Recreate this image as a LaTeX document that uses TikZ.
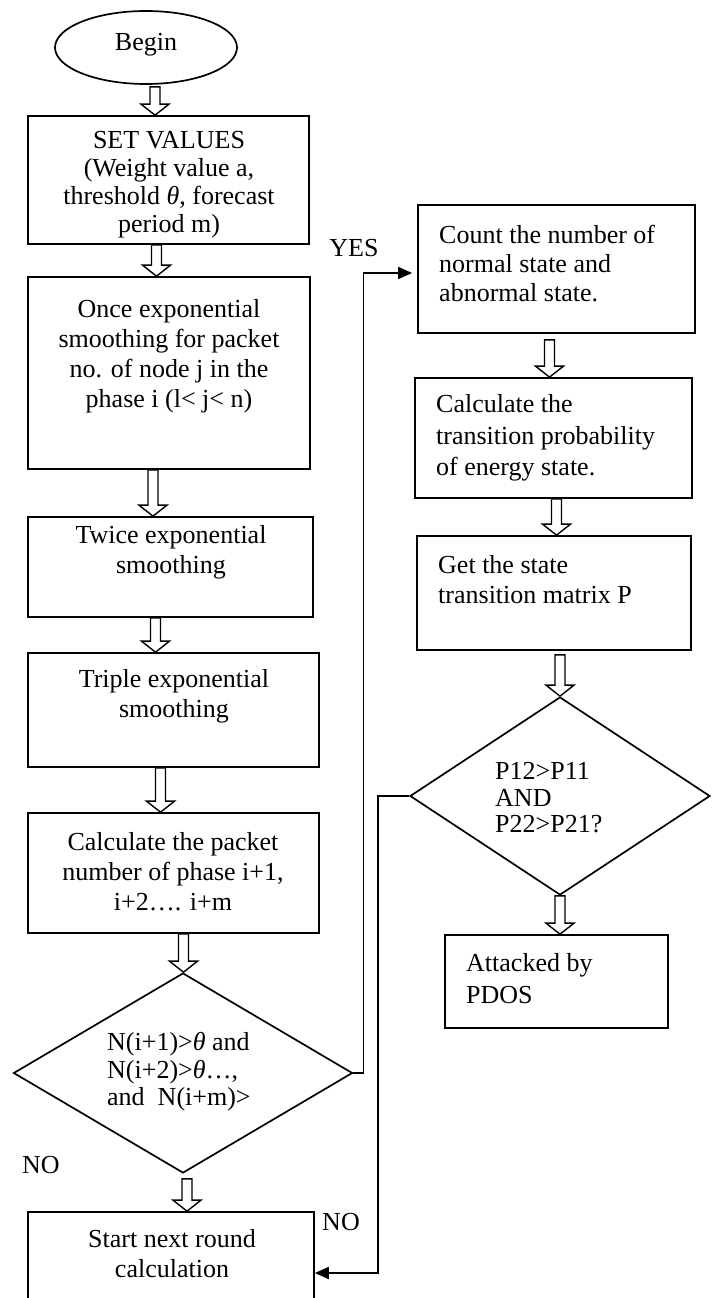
\documentclass[tikz,border=0pt]{standalone}
\usepackage{fontspec}
\setmainfont{Liberation Serif}
\usetikzlibrary{shapes.geometric,arrows.meta,calc}
\begin{document}
\begin{tikzpicture}[x=1pt,y=-1pt,
  shp/.style={draw,line width=1.7pt,inner sep=0pt},
  boxn/.style={shp,rectangle},
  txt/.style={inner sep=0pt,font=\fontsize{26}{30}\selectfont},
  ctxt/.style={txt,align=center},
  ltxt/.style={txt,align=left,anchor=west},
  blk/.style={draw,line width=1.4pt,fill=white,to path={let \p1=(\tikztostart), \p2=(\tikztotarget) in
     ({\x1-5pt},\y1) -- ({\x1-5pt},{\y2+11pt}) -- ({\x1-14pt},{\y2+11pt}) -- (\x1,\y2)
     -- ({\x1+14pt},{\y2+11pt}) -- ({\x1+5pt},{\y2+11pt}) -- ({\x1+5pt},\y1) -- cycle}},
  conn/.style={draw,line width=1.7pt,-{Triangle[length=14pt,width=12pt]}}]
\useasboundingbox (0,0) rectangle (717,1298);
% left column shapes
\node[shp,ellipse,minimum width=182pt,minimum height=73pt] (e) at (146,47.5) {};
\node[boxn,minimum width=281pt,minimum height=128pt] (b1) at (168.5,180) {};
\node[boxn,minimum width=282pt,minimum height=192pt] (b2) at (169,373) {};
\node[boxn,minimum width=285pt,minimum height=100pt] (b3) at (170.5,567) {};
\node[boxn,minimum width=291pt,minimum height=114pt] (b4) at (173.5,710) {};
\node[boxn,minimum width=291pt,minimum height=120pt] (b5) at (173.5,873) {};
\node[shp,diamond,minimum width=339pt,minimum height=200pt] (d1) at (183,1073) {};
\node[boxn,minimum width=286pt,minimum height=88pt] (s) at (171,1256) {};
% right column shapes
\node[boxn,minimum width=277pt,minimum height=128pt] (r1) at (556.5,269) {};
\node[boxn,minimum width=277pt,minimum height=120pt] (r2) at (553.5,438) {};
\node[boxn,minimum width=274pt,minimum height=114pt] (r3) at (554,593) {};
\node[shp,diamond,minimum width=300pt,minimum height=198pt] (d2) at (560,796) {};
\node[boxn,minimum width=223pt,minimum height=93pt] (a) at (556.5,981.5) {};
% texts
\node[ctxt] (te) at (146,45) {Begin};
\node[ctxt,font=\fontsize{26}{28}\selectfont] (t1) at (169,185) {SET VALUES\\(Weight value a,\\threshold \textit{θ}, forecast\\period m)};
\node[ctxt] (t2) at (169,356) {Once exponential\\smoothing for packet\\no. of node j in the\\phase i (l< j< n)};
\node[ctxt] (t3) at (171,552) {Twice exponential\\smoothing};
\node[ctxt] (t4) at (174,696) {Triple exponential\\smoothing};
\node[ctxt] (t5) at (173,872) {Calculate the packet\\number of phase i+1,\\i+2…. i+m};
\node[ctxt] (t6) at (172,1254) {Start next round\\calculation};
\node[ltxt,font=\fontsize{26}{29}\selectfont] (tr1) at (439,264) {Count the number of\\normal state and\\abnormal state.};
\node[ltxt,font=\fontsize{26}{31.5}\selectfont] (tr2) at (436,438) {Calculate the\\transition probability\\of energy state.};
\node[ltxt] (tr3) at (438,580) {Get the state\\transition matrix P};
\node[ltxt,font=\fontsize{26}{32}\selectfont] (ta) at (466,979) {Attacked by\\PDOS};
\node[ltxt,font=\fontsize{26}{27.5}\selectfont] (td1) at (107,1072) {N(i+1)>\textit{θ} and\\N(i+2)>\textit{θ}…,\\and~~N(i+m)>};
\node[ltxt,font=\fontsize{26}{26.5}\selectfont] (td2) at (495,798) {P12>P11\\AND\\P22>P21?};
\node[ctxt] (yes) at (354,248) {YES};
\node[ctxt] (no1) at (41,1165) {NO};
\node[ctxt] (no2) at (341,1222) {NO};
% block arrows
\draw[blk] ([xshift=9pt,yshift=-2pt]e.south) to (b1.north);
\draw[blk] ([xshift=-12pt]b1.south) to (b2.north);
\draw[blk] ([xshift=-16pt]b2.south) to (b3.north);
\draw[blk] ([xshift=-15pt]b3.south) to (b4.north);
\draw[blk] ([xshift=-13pt]b4.south) to (b5.north);
\draw[blk] ([xshift=10pt]b5.south) to (d1.north);
\draw[blk] ([xshift=4pt,yshift=-5pt]d1.south) to (s.north);
\draw[blk] ([xshift=-7pt,yshift=-6pt]r1.south) to (r2.north);
\draw[blk] ([xshift=3pt]r2.south) to (r3.north);
\draw[blk] ([xshift=6pt,yshift=-4pt]r3.south) to (d2.north);
\draw[blk] (d2.south) to (a.north);
% connectors
\draw[conn,shorten >=5pt] (d1.east) -- ++(10,0) |- ([yshift=-4pt]r1.west);
\draw[conn] (d2.west) -- ++(-31,0) |- ([yshift=-17pt]s.east);
\end{tikzpicture}
\end{document}
